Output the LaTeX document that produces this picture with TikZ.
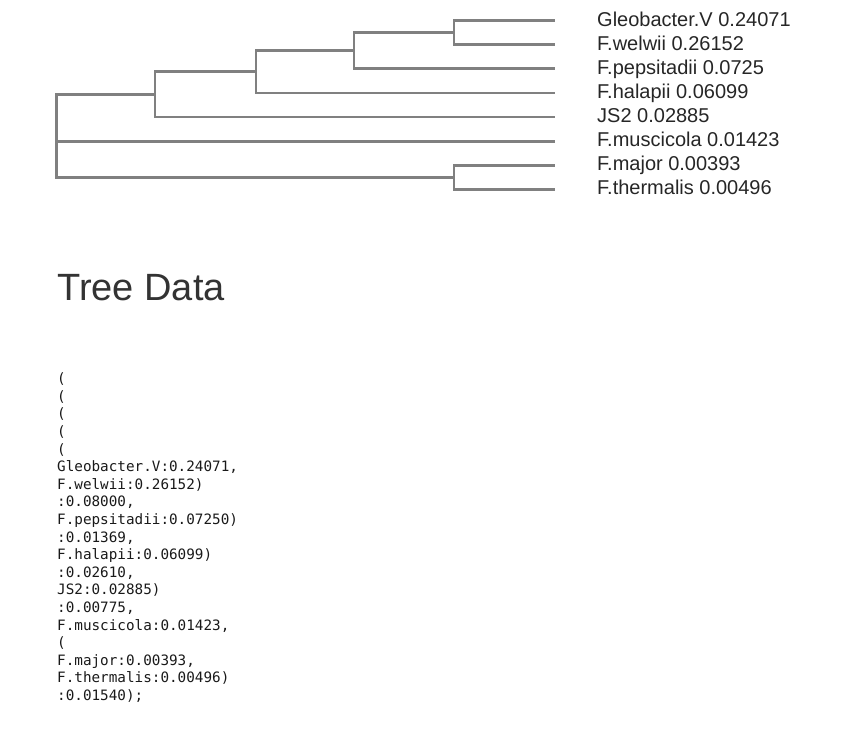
\documentclass[tikz,border=0pt]{standalone}
\usepackage{fontspec}
\setmainfont{Liberation Sans}
\newfontfamily\codefont{DejaVu Sans Mono}
\begin{document}
\begin{tikzpicture}[x=1pt,y=-1pt,
  branch/.style={draw=black!50,line width=2.8pt,line cap=rect,line join=miter},
  leaflabel/.style={anchor=base west,inner sep=0pt,text=black!85,font=\fontsize{20}{24}\selectfont},
  codeline/.style={anchor=base west,inner sep=0pt,text=black!90,font=\codefont\fontsize{14.3}{17.6}\selectfont}]
\useasboundingbox (0,0) rectangle (851,751);
% leaves
\coordinate (l1) at (553.6,20.7);
\coordinate (l2) at (553.6,44.8);
\coordinate (l3) at (553.6,68.9);
\coordinate (l4) at (553.6,93.0);
\coordinate (l5) at (553.6,117.1);
\coordinate (l6) at (553.6,141.2);
\coordinate (l7) at (553.6,165.3);
\coordinate (l8) at (553.6,189.4);
% internal nodes
\coordinate (n5) at (454,32.75);
\coordinate (n4) at (354,50.8);
\coordinate (n3) at (256,71.9);
\coordinate (n2) at (155,94.5);
\coordinate (n6) at (454,177.35);
\coordinate (root) at (56.5,135.9);
% branches
\draw[branch] (n5) |- (l1);
\draw[branch] (n5) |- (l2);
\draw[branch] (n4) |- (n5);
\draw[branch] (n4) |- (l3);
\draw[branch] (n3) |- (n4);
\draw[branch] (n3) |- (l4);
\draw[branch] (n2) |- (n3);
\draw[branch] (n2) |- (l5);
\draw[branch] (root) |- (n2);
\draw[branch] (root) |- (l6);
\draw[branch] (root) |- (n6);
\draw[branch] (n6) |- (l7);
\draw[branch] (n6) |- (l8);
% labels
\node[leaflabel] (t1) at (597,26.2) {Gleobacter.V 0.24071};
\node[leaflabel] (t2) at (597,50.3) {F.welwii 0.26152};
\node[leaflabel] (t3) at (597,74.4) {F.pepsitadii 0.0725};
\node[leaflabel] (t4) at (597,98.5) {F.halapii 0.06099};
\node[leaflabel] (t5) at (597,122.6) {JS2 0.02885};
\node[leaflabel] (t6) at (597,146.7) {F.muscicola 0.01423};
\node[leaflabel] (t7) at (597,170.8) {F.major 0.00393};
\node[leaflabel] (t8) at (597,194.9) {F.thermalis 0.00496};
% heading
\node[anchor=base west,inner sep=0pt,text=black!80,font=\fontsize{38}{44}\selectfont] (title) at (57,300) {Tree Data};
% code
\node[codeline] (c0) at (57,383.7) {(};
\node[codeline] (c1) at (57,401.3) {(};
\node[codeline] (c2) at (57,418.9) {(};
\node[codeline] (c3) at (57,436.5) {(};
\node[codeline] (c4) at (57,454.1) {(};
\node[codeline] (c5) at (57,471.7) {Gleobacter.V:0.24071,};
\node[codeline] (c6) at (57,489.3) {F.welwii:0.26152)};
\node[codeline] (c7) at (57,506.9) {:0.08000,};
\node[codeline] (c8) at (57,524.5) {F.pepsitadii:0.07250)};
\node[codeline] (c9) at (57,542.1) {:0.01369,};
\node[codeline] (c10) at (57,559.7) {F.halapii:0.06099)};
\node[codeline] (c11) at (57,577.3) {:0.02610,};
\node[codeline] (c12) at (57,594.9) {JS2:0.02885)};
\node[codeline] (c13) at (57,612.5) {:0.00775,};
\node[codeline] (c14) at (57,630.1) {F.muscicola:0.01423,};
\node[codeline] (c15) at (57,647.7) {(};
\node[codeline] (c16) at (57,665.3) {F.major:0.00393,};
\node[codeline] (c17) at (57,682.9) {F.thermalis:0.00496)};
\node[codeline] (c18) at (57,700.5) {:0.01540);};
\end{tikzpicture}
\end{document}
